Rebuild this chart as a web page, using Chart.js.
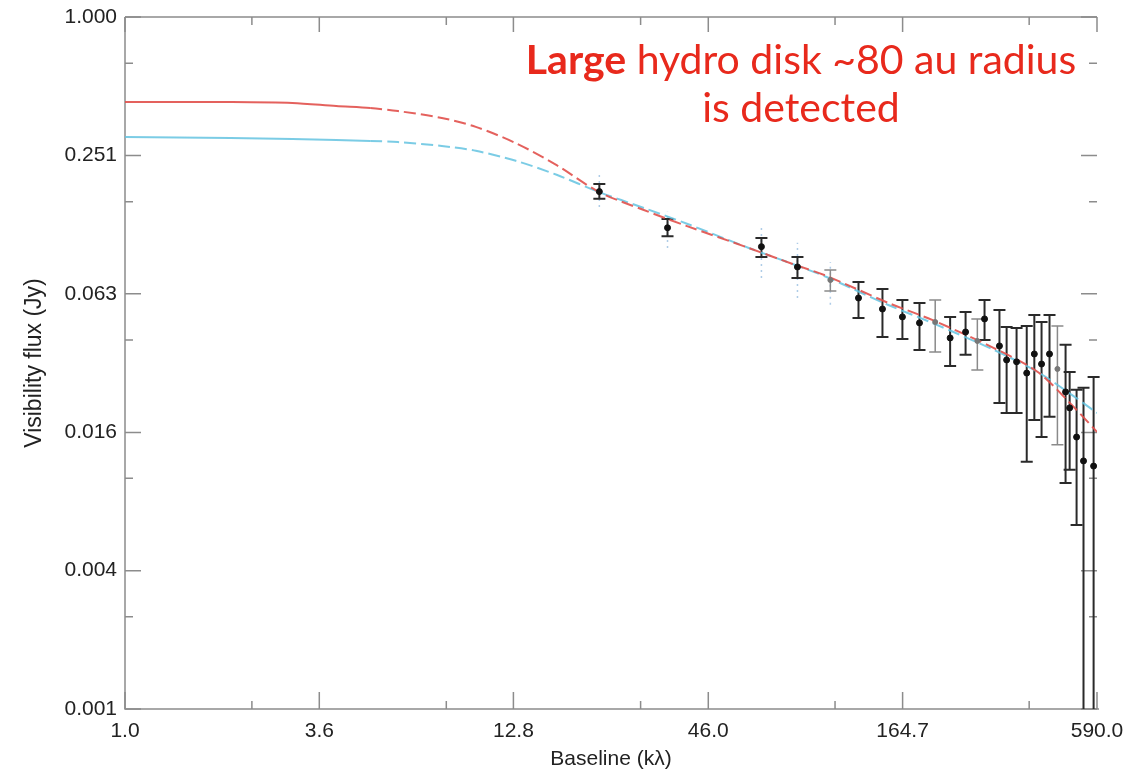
<!DOCTYPE html>
<html><head><meta charset="utf-8">
<script src="https://cdn.jsdelivr.net/npm/chart.js@4"></script>
<style>
html,body{margin:0;padding:0;background:#fff;}
#wrap{position:relative;width:1132px;height:772px;}
#note{position:absolute;left:451px;top:35px;width:700px;text-align:center;font-family:Lato,"Open Sans",sans-serif;font-size:41px;line-height:48px;color:#e8291c;}
#note b{font-weight:bold;}
</style></head><body>
<div id="wrap"><canvas id="c" width="1132" height="772"></canvas>
<div id="note"><b>Large</b> hydro disk ~80 au radius<br>is detected</div></div>
<script>
// ---- axes ----
const xTickValues=[1.0,3.58,12.8,46.0,164.7,590.0];
const xTickLabels=['1.0','3.6','12.8','46.0','164.7','590.0'];
const xMinorValues=[2.3,8.24,29.5,105.7,378];
const yTickValues=[0.001,0.00398,0.0158,0.0631,0.251,1.0];
const yTickLabels=['0.001','0.004','0.016','0.063','0.251','1.000'];
const yMinorValues=[0.631,0.158,0.0398,0.01,0.00251];

// ---- measured visibilities (main) ----
const baseline=[22.5,35.2,65.2,82.6,123.3,144.3,164.5,184,225,249,282,311,326,348,372,391,410,432,480,493,516,540,577];
const flux=[0.175,0.122,0.101,0.0825,0.0605,0.0542,0.0501,0.0472,0.0406,0.0431,0.0491,0.0375,0.0326,0.0320,0.0286,0.0346,0.0313,0.0346,0.0237,0.0202,0.0151,0.0119,0.0113];
const fluxLow=[0.163,0.112,0.0912,0.0739,0.0496,0.0410,0.0402,0.0360,0.0307,0.0343,0.0398,0.0212,0.0192,0.0192,0.0118,0.0179,0.0151,0.0185,0.00955,0.0109,0.00628,0.0008,0.0008];
const fluxHigh=[0.189,0.133,0.110,0.0912,0.0710,0.0662,0.0593,0.0576,0.0501,0.0526,0.0593,0.0537,0.0453,0.0449,0.0458,0.0511,0.0476,0.0511,0.0379,0.0289,0.0242,0.0247,0.0275];

// ---- fainter visibilities ----
const faintBaseline=[102.5,204,269,455];
const faintFlux=[0.0724,0.0476,0.0394,0.0298];
const faintLow=[0.0649,0.0353,0.0295,0.0140];
const faintHigh=[0.0800,0.0593,0.0491,0.0458];

// ---- outer (dotted) ranges of first points ----
const outerBaseline=[22.5,35.2,65.2,82.6,102.5];
const outerLow=[0.150,0.0997,0.0739,0.0605,0.0565];
const outerHigh=[0.207,0.143,0.125,0.105,0.0867];

// ---- models ----
const modelBaseline=[1,2,3,4,5,6,8,10,13,17,22.5,30,40,60,80,100,150,200,300,400,500,590];
const redModel=[0.428,0.428,0.424,0.411,0.403,0.391,0.365,0.334,0.284,0.228,0.174,0.146,0.124,0.0997,0.0850,0.0754,0.0576,0.0486,0.0367,0.0289,0.0208,0.0159];
const blueModel=[0.302,0.299,0.296,0.293,0.290,0.287,0.276,0.263,0.238,0.207,0.174,0.149,0.127,0.0997,0.0850,0.0746,0.0564,0.0472,0.0360,0.0289,0.0230,0.0192];

const pts=(xs,ys)=>xs.map((v,i)=>({x:v,y:ys[i]}));

const axisPlugin={id:'axisDeco',
 beforeDatasetsDraw(chart){
  const {ctx,chartArea:a,scales:{x,y}}=chart;
  ctx.save();
  ctx.strokeStyle='#8c8c8c';ctx.lineWidth=1.5;
  ctx.beginPath();
  ctx.moveTo(a.left,a.top);ctx.lineTo(a.left,a.bottom);ctx.lineTo(a.right+2,a.bottom);
  ctx.moveTo(a.left,a.top);ctx.lineTo(a.right,a.top);
  ctx.stroke();
  ctx.beginPath();
  yTickValues.forEach(v=>{const p=y.getPixelForValue(v);
    ctx.moveTo(a.left,p);ctx.lineTo(a.left+16,p);ctx.moveTo(a.right,p);ctx.lineTo(a.right-16,p);});
  yMinorValues.forEach(v=>{const p=y.getPixelForValue(v);
    ctx.moveTo(a.left,p);ctx.lineTo(a.left+8,p);ctx.moveTo(a.right,p);ctx.lineTo(a.right-8,p);});
  xTickValues.forEach(v=>{const p=x.getPixelForValue(v);
    ctx.moveTo(p,a.bottom);ctx.lineTo(p,a.bottom-17);ctx.moveTo(p,a.top);ctx.lineTo(p,a.top+15);});
  xMinorValues.forEach(v=>{const p=x.getPixelForValue(v);
    ctx.moveTo(p,a.bottom);ctx.lineTo(p,a.bottom-8);ctx.moveTo(p,a.top);ctx.lineTo(p,a.top+8);});
  ctx.stroke();
  // error bars
  ctx.beginPath();ctx.rect(a.left,a.top,a.right-a.left+4,a.bottom-a.top);ctx.clip();
  function bar(xv,lo,hi,color,w,cap,dash){
    const px=x.getPixelForValue(xv),p1=y.getPixelForValue(lo),p2=y.getPixelForValue(hi);
    ctx.strokeStyle=color;ctx.lineWidth=w;ctx.setLineDash(dash||[]);
    ctx.beginPath();ctx.moveTo(px,p1);ctx.lineTo(px,p2);ctx.stroke();
    ctx.setLineDash([]);
    ctx.beginPath();ctx.moveTo(px-cap,p1);ctx.lineTo(px+cap,p1);ctx.moveTo(px-cap,p2);ctx.lineTo(px+cap,p2);ctx.stroke();
  }
  outerBaseline.forEach((v,i)=>bar(v,outerLow[i],outerHigh[i],'rgba(120,170,215,0.6)',1.5,0,[2,4]));
  faintBaseline.forEach((v,i)=>bar(v,faintLow[i],faintHigh[i],'#8a8a8a',1.5,6));
  baseline.forEach((v,i)=>bar(v,fluxLow[i],fluxHigh[i],'#2a2a2a',2,6));
  ctx.restore();
 }};

const dashAfter=(lim)=>({borderDash:c=>c.p0.parsed.x>=lim?[12,5]:undefined});
const tickFont={family:'Liberation Sans',size:21};

new Chart(document.getElementById('c'),{
 type:'scatter',
 data:{datasets:[
  {label:'data',data:pts(baseline,flux),order:0,pointRadius:3,pointBackgroundColor:'#111',pointBorderColor:'#111',showLine:false},
  {label:'faint',data:pts(faintBaseline,faintFlux),order:0,pointRadius:2.5,pointBackgroundColor:'#777',pointBorderColor:'#777',showLine:false},
  {label:'red model',data:pts(modelBaseline,redModel),order:1,showLine:true,pointRadius:0,borderColor:'rgba(225,80,75,0.9)',borderWidth:2,tension:0.3,segment:dashAfter(5)},
  {label:'blue model',data:pts(modelBaseline,blueModel),order:2,showLine:true,pointRadius:0,borderColor:'rgba(100,195,225,0.85)',borderWidth:2,tension:0.3,segment:dashAfter(5)}
 ]},
 options:{
  responsive:false,animation:false,devicePixelRatio:1,
  layout:{padding:{top:17,right:35,left:0,bottom:0}},
  plugins:{legend:{display:false},tooltip:{enabled:false}},
  scales:{
   x:{type:'logarithmic',min:1,max:590,
    afterBuildTicks:s=>{s.ticks=xTickValues.map(v=>({value:v}));},
    afterFit:s=>{s.height=63;s.paddingLeft=0;s.paddingRight=0;},
    grid:{display:false,drawTicks:false},border:{display:false},
    ticks:{autoSkip:false,maxRotation:0,padding:10,color:'#222',font:tickFont,callback:(v,i)=>xTickLabels[i]},
    title:{display:true,text:'Baseline (kλ)',color:'#222',font:{family:'Liberation Sans',size:21},padding:{top:0,bottom:0}}
   },
   y:{type:'logarithmic',min:0.001,max:1,
    afterBuildTicks:s=>{s.ticks=yTickValues.map(v=>({value:v}));},
    afterFit:s=>{s.width=125;s.paddingTop=0;s.paddingBottom=0;},
    grid:{display:false,drawTicks:false},border:{display:false},
    ticks:{autoSkip:false,padding:8,color:'#222',font:tickFont,callback:(v,i)=>yTickLabels[i]},
    title:{display:true,text:'Visibility flux (Jy)',color:'#222',font:{family:'Liberation Sans',size:23},padding:{top:21,bottom:0}}
   }
  }
 },
 plugins:[axisPlugin]
});
</script>
</body></html>
